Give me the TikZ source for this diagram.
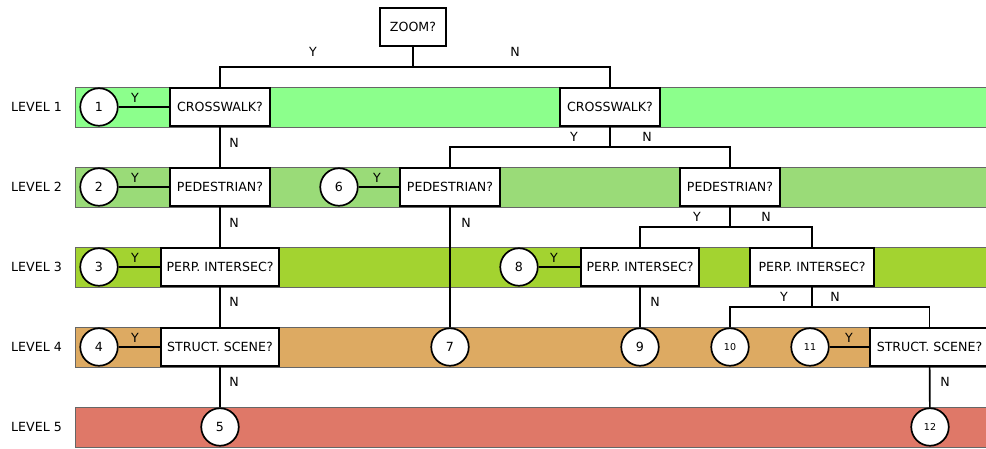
\documentclass[tikz,border=0pt]{standalone}
\usepackage{fontspec}
\setmainfont{DejaVu Sans}
\begin{document}
\begin{tikzpicture}[x=1pt,y=-1pt,
 box/.style={draw,line width=1.7pt,fill=white,minimum height=38.5pt,inner sep=0pt,font=\fontsize{12.6}{14}\selectfont},
 leaf/.style={circle,draw,line width=1.7pt,fill=white,minimum size=37.5pt,inner sep=0pt,font=\fontsize{12.6}{14}\selectfont},
 small/.style={font=\fontsize{9.5}{11}\selectfont},
 conn/.style={line width=1.7pt},
 lbl/.style={inner sep=0pt,font=\fontsize{12.6}{14}\selectfont},
 lvl/.style={inner sep=0pt,font=\fontsize{12.6}{14}\selectfont},
 bandline/.style={draw=black!60,line width=0.9pt}]
\useasboundingbox (0,0) rectangle (986,449);
% bands
\definecolor{c1}{RGB}{140,255,140}
\definecolor{c2}{RGB}{154,219,120}
\definecolor{c3}{RGB}{163,211,48}
\definecolor{c4}{RGB}{221,170,98}
\definecolor{c5}{RGB}{223,120,104}
\foreach \y/\c in {87/c1,167/c2,247/c3,327/c4,407/c5}{
  \fill[\c] (75,\y) rectangle (986,\y+40);
  \draw[bandline] (986,\y) -- (75,\y) -- (75,\y+40) -- (986,\y+40);
}
% level labels
\node[lvl] (l1) at (36.5,107) {LEVEL 1};
\node[lvl] (l2) at (36.5,187) {LEVEL 2};
\node[lvl] (l3) at (36.5,267) {LEVEL 3};
\node[lvl] (l4) at (36.5,347) {LEVEL 4};
\node[lvl] (l5) at (36.5,427) {LEVEL 5};
% decision boxes
\node[box,minimum width=66.5pt] (zoom) at (413,27) {ZOOM?};
\node[box,minimum width=99.5pt] (cwL) at (220,107) {CROSSWALK?};
\node[box,minimum width=99.5pt] (cwR) at (610,107) {CROSSWALK?};
\node[box,minimum width=99.5pt] (peL) at (220,187) {PEDESTRIAN?};
\node[box,minimum width=99.5pt] (peM) at (450,187) {PEDESTRIAN?};
\node[box,minimum width=99.5pt] (peR) at (730,187) {PEDESTRIAN?};
\node[box,minimum width=118.5pt] (piL) at (220,267) {PERP. INTERSEC?};
\node[box,minimum width=118.5pt] (piM) at (640,267) {PERP. INTERSEC?};
\node[box,minimum width=123.5pt] (piR) at (812,267) {PERP. INTERSEC?};
\node[box,minimum width=118.5pt] (ssL) at (220,347) {STRUCT. SCENE?};
\node[box,minimum width=119.5pt] (ssR) at (929.5,347) {STRUCT. SCENE?};
% leaves
\node[leaf] (n1) at (99,107) {1};
\node[leaf] (n2) at (99,187) {2};
\node[leaf] (n6) at (339,187) {6};
\node[leaf] (n3) at (99,267) {3};
\node[leaf] (n8) at (519,267) {8};
\node[leaf] (n4) at (99,347) {4};
\node[leaf] (n7) at (450,347) {7};
\node[leaf] (n9) at (640,347) {9};
\node[leaf,small] (n10) at (730,347) {10};
\node[leaf,small] (n11) at (810,347) {11};
\node[leaf] (n5) at (220,427) {5};
\node[leaf,small] (n12) at (930,427) {12};
% junctions
\coordinate (j0) at (413,67);
\coordinate (j1) at (610,147);
\coordinate (j2) at (730,227);
\coordinate (j3) at (812,307);
% connectors
\draw[conn] (zoom) -- (j0);
\draw[conn] (j0) -| (cwL);
\draw[conn] (j0) -| (cwR);
\draw[conn] (n1) -- (cwL);
\draw[conn] (cwL) -- (peL);
\draw[conn] (cwR) -- (j1);
\draw[conn] (j1) -| (peM);
\draw[conn] (j1) -| (peR);
\draw[conn] (n2) -- (peL);
\draw[conn] (n6) -- (peM);
\draw[conn] (peL) -- (piL);
\draw[conn] (peM) -- (n7);
\draw[conn] (peR) -- (j2);
\draw[conn] (j2) -| (piM);
\draw[conn] (j2) -| (piR);
\draw[conn] (n3) -- (piL);
\draw[conn] (n8) -- (piM);
\draw[conn] (piL) -- (ssL);
\draw[conn] (piM) -- (n9);
\draw[conn] (piR) -- (j3);
\draw[conn] (j3) -| (n10);
\draw[conn] (j3) -| (ssR);
\draw[conn] (n4) -- (ssL);
\draw[conn] (n11) -- (ssR);
\draw[conn] (ssL) -- (n5);
\draw[conn] (ssR) -- (n12);
% redraw node above the line passing through it
\node[box,minimum width=99.5pt] at (450,187) {PEDESTRIAN?};
% edge labels
\node[lbl] (y0) at (313,52) {Y};
\node[lbl] (n0) at (515,52) {N};
\node[lbl] (ya) at (135,98) {Y};
\node[lbl] (na) at (234,143) {N};
\node[lbl] (yb) at (574,137) {Y};
\node[lbl] (nb) at (647,137) {N};
\node[lbl] (yc) at (135,178) {Y};
\node[lbl] (yd) at (377,178) {Y};
\node[lbl] (nc) at (234,223) {N};
\node[lbl] (nd) at (466,223) {N};
\node[lbl] (ye) at (697,217) {Y};
\node[lbl] (ne) at (766,217) {N};
\node[lbl] (yf) at (135,258) {Y};
\node[lbl] (yg) at (554,258) {Y};
\node[lbl] (nf) at (234,302) {N};
\node[lbl] (ng) at (655,302) {N};
\node[lbl] (yh) at (784,297) {Y};
\node[lbl] (nh) at (835,297) {N};
\node[lbl] (yi) at (135,338) {Y};
\node[lbl] (yj) at (849,338) {Y};
\node[lbl] (ni) at (234,382) {N};
\node[lbl] (nj) at (945,382) {N};
\end{tikzpicture}
\end{document}
